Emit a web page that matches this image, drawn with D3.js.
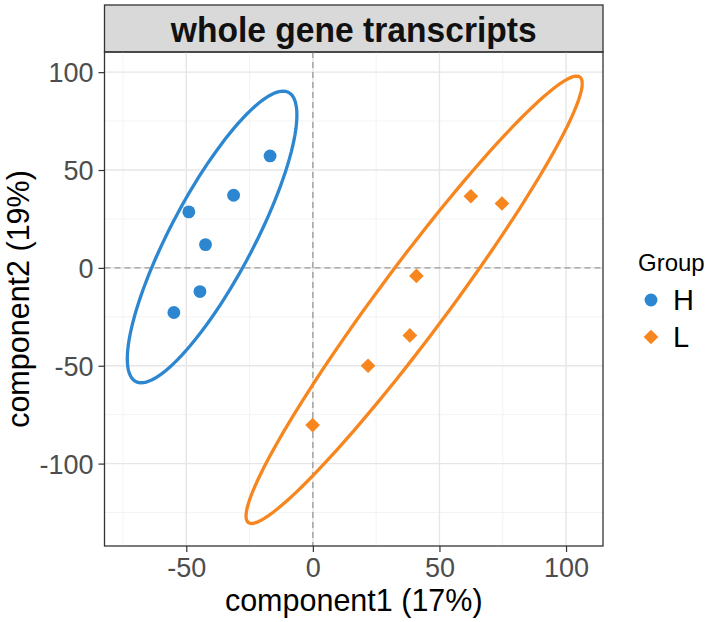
<!DOCTYPE html>
<html lang="en">
<head>
<meta charset="UTF-8">
<title>whole gene transcripts</title>
<style>
  body { margin: 0; background: #fff; }
  svg text { font-family: "Liberation Sans", Arial, sans-serif; }
</style>
<script src="https://cdn.jsdelivr.net/npm/d3@7"></script>
</head>
<body>
<svg id="chart" width="709" height="622"></svg>
<script>
// data
var groups = ["H", "L"];
var colors = ["#2C87D0", "#F7861F"];
var hX = [-16.9, -31.3, -49.0, -42.4, -44.6, -54.9];
var hY = [57.2, 37.1, 28.6, 11.9, -12.1, -22.8];
var lX = [62.4, 74.7, 40.9, 38.3, 21.8, -0.1];
var lY = [36.6, 32.9, -4.1, -34.5, -50.0, -80.3];
// ellipse centre and shape (sxx, sxy, syy) as drawn
var ellCenter = [[-39.8, 15.8], [40.0, -16.3]];
var ellShape = [[1122, 2086, 5550], [4409, 7338, 13064]];
var xTicks = [-50, 0, 50, 100];
var yTicks = [-100, -50, 0, 50, 100];
var xMinor = [-75, -25, 25, 75];
var yMinor = [-125, -75, -25, 25, 75];
var title = "whole gene transcripts";
var xTitle = "component1 (17%)";
var yTitle = "component2 (19%)";

var svg = d3.select("#chart");
var pL = 104.5, pR = 603, pT = 52, pB = 546;

var x = d3.scaleLinear().domain([-82.3, 114.6]).range([pL, pR]);
var y = d3.scaleLinear().domain([-142.1, 110.3]).range([pB, pT]);

// strip
svg.append("rect")
    .attr("x", pL).attr("y", 5)
    .attr("width", pR - pL).attr("height", pT - 5)
    .attr("fill", "#D9D9D9").attr("stroke", "#333").attr("stroke-width", 1.3);
svg.append("text")
    .attr("transform", "translate(" + ((pL + pR) / 2) + ",42) scale(0.96,1)")
    .attr("text-anchor", "middle")
    .attr("font-size", 35).attr("font-weight", "bold").attr("fill", "#111")
    .text(title);

// grid
var grid = svg.append("g");
xMinor.forEach(function(v) {
    grid.append("line").attr("x1", x(v)).attr("x2", x(v)).attr("y1", pT).attr("y2", pB)
        .attr("stroke", "#F0F0F0").attr("stroke-width", 0.8);
});
yMinor.forEach(function(v) {
    grid.append("line").attr("y1", y(v)).attr("y2", y(v)).attr("x1", pL).attr("x2", pR)
        .attr("stroke", "#F0F0F0").attr("stroke-width", 0.8);
});
xTicks.forEach(function(v) {
    grid.append("line").attr("x1", x(v)).attr("x2", x(v)).attr("y1", pT).attr("y2", pB)
        .attr("stroke", "#E6E6E6").attr("stroke-width", 1.4);
});
yTicks.forEach(function(v) {
    grid.append("line").attr("y1", y(v)).attr("y2", y(v)).attr("x1", pL).attr("x2", pR)
        .attr("stroke", "#E6E6E6").attr("stroke-width", 1.4);
});

// zero lines
svg.append("line").attr("x1", x(0)).attr("x2", x(0)).attr("y1", pT).attr("y2", pB)
    .attr("stroke", "#999").attr("stroke-width", 1.3).attr("stroke-dasharray", "6,4");
svg.append("line").attr("y1", y(0)).attr("y2", y(0)).attr("x1", pL).attr("x2", pR)
    .attr("stroke", "#999").attr("stroke-width", 1.3).attr("stroke-dasharray", "6,4");

// ellipses
var line = d3.line().x(function(d) { return x(d[0]); }).y(function(d) { return y(d[1]); });
ellCenter.forEach(function(c, i) {
    var s = ellShape[i];
    var a = Math.sqrt(s[0]), b = s[1] / a, e = Math.sqrt(s[2] - b * b);
    var pts = d3.range(0, 361, 3).map(function(deg) {
        var t = deg * Math.PI / 180;
        return [c[0] + a * Math.cos(t), c[1] + b * Math.cos(t) + e * Math.sin(t)];
    });
    svg.append("path").attr("d", line(pts)).attr("fill", "none")
        .attr("stroke", colors[i]).attr("stroke-width", 3.3);
});

// points
var circle = d3.symbol().type(d3.symbolCircle).size(130);
var diamond = d3.symbol().type(d3.symbolSquare).size(108);
hX.forEach(function(v, i) {
    svg.append("path").attr("d", circle)
        .attr("transform", "translate(" + x(v) + "," + y(hY[i]) + ")")
        .attr("fill", colors[0]);
});
lX.forEach(function(v, i) {
    svg.append("path").attr("d", diamond)
        .attr("transform", "translate(" + x(v) + "," + y(lY[i]) + ") rotate(45)")
        .attr("fill", colors[1]);
});

// panel border
svg.append("rect").attr("x", pL).attr("y", pT)
    .attr("width", pR - pL).attr("height", pB - pT)
    .attr("fill", "none").attr("stroke", "#333").attr("stroke-width", 1.3);

// axes
var fmt = function(d) { return String(d); };
var xAxis = svg.append("g").attr("transform", "translate(0," + pB + ")")
    .call(d3.axisBottom(x).tickValues(xTicks).tickFormat(fmt).tickSize(6));
var yAxis = svg.append("g").attr("transform", "translate(" + pL + ",0)")
    .call(d3.axisLeft(y).tickValues(yTicks).tickFormat(fmt).tickSize(6));
[xAxis, yAxis].forEach(function(ax) {
    ax.select(".domain").remove();
    ax.selectAll(".tick line").attr("stroke", "#333").attr("stroke-width", 1.2);
    ax.selectAll(".tick text").attr("fill", "#4D4D4D").attr("font-size", 27)
        .attr("font-family", "Liberation Sans, Arial, sans-serif");
});
xAxis.selectAll(".tick text").attr("y", 31).attr("dy", 0);
yAxis.selectAll(".tick text").attr("x", -11).attr("dy", "0.35em");

// axis titles
svg.append("text")
    .attr("x", (pL + pR) / 2).attr("y", 611)
    .attr("text-anchor", "middle").attr("font-size", 30.5).attr("fill", "#000")
    .text(xTitle);
svg.append("text")
    .attr("transform", "translate(29," + ((pT + pB) / 2) + ") rotate(-90)")
    .attr("text-anchor", "middle").attr("font-size", 30.5).attr("fill", "#000")
    .text(yTitle);

// legend
var legend = svg.append("g");
legend.append("text").attr("x", 638).attr("y", 271)
    .attr("font-size", 24).attr("fill", "#000").text("Group");
groups.forEach(function(g, i) {
    var yy = 300 + i * 37;
    legend.append("path").attr("d", i === 0 ? circle : diamond)
        .attr("transform", "translate(651," + yy + ")" + (i === 1 ? " rotate(45)" : ""))
        .attr("fill", colors[i]);
    legend.append("text").attr("x", 673).attr("y", yy + 10)
        .attr("font-size", 29).attr("fill", "#000").text(g);
});
</script>
</body>
</html>
